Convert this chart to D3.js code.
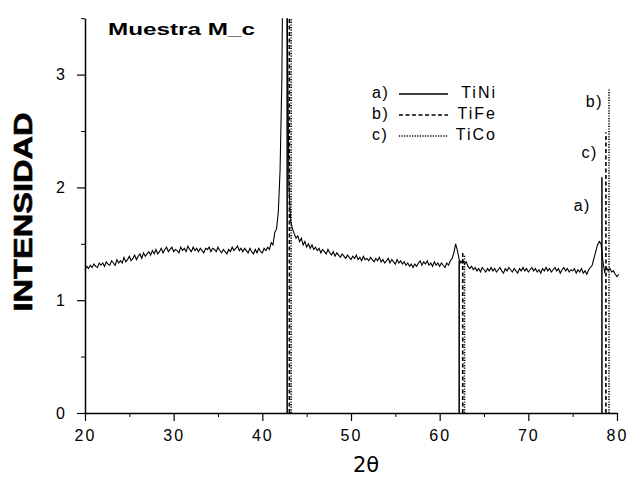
<!DOCTYPE html>
<html>
<head>
<meta charset="utf-8">
<script src="https://cdn.jsdelivr.net/npm/d3@7/dist/d3.min.js"></script>
<style>
  html, body { margin: 0; padding: 0; background: #fff; }
  svg { display: block; }
  text { font-family: "Liberation Sans", Arial, sans-serif; fill: #000; }
</style>
</head>
<body>
<svg id="chart" width="627" height="484"></svg>
<script>
// Diffraction scan, sample M_c: intensity every 0.2 degrees of 2θ starting at 20
const angleStart = 20;
const angleStep = 0.2;
const intensity = [
  1.27, 1.30, 1.28, 1.31, 1.29, 1.32, 1.30, 1.29, 1.33, 1.31,
  1.33, 1.30, 1.34, 1.32, 1.31, 1.35, 1.33, 1.31, 1.36, 1.33,
  1.35, 1.33, 1.38, 1.34, 1.36, 1.39, 1.35, 1.37, 1.40, 1.36,
  1.39, 1.41, 1.37, 1.42, 1.39, 1.41, 1.43, 1.40, 1.44, 1.41,
  1.45, 1.41, 1.43, 1.46, 1.42, 1.45, 1.47, 1.43, 1.45, 1.47,
  1.43, 1.45, 1.44, 1.42, 1.47, 1.44, 1.46, 1.43, 1.48, 1.45,
  1.43, 1.47, 1.44, 1.46, 1.43, 1.46, 1.44, 1.42, 1.46, 1.45,
  1.47, 1.43, 1.46, 1.45, 1.43, 1.47, 1.44, 1.42, 1.45, 1.43,
  1.41, 1.45, 1.43, 1.47, 1.44, 1.46, 1.48, 1.44, 1.46, 1.43,
  1.46, 1.44, 1.42, 1.46, 1.43, 1.41, 1.45, 1.42, 1.46, 1.43,
  1.42, 1.46, 1.44, 1.47, 1.45, 1.51, 1.49, 1.60, 1.63, 1.78,
  2.15, 2.95, 4.80, 6.00, 3.60, 2.00, 1.70, 1.63, 1.59, 1.55,
  1.57, 1.52, 1.55, 1.49, 1.52, 1.47, 1.50, 1.46, 1.49, 1.45,
  1.47, 1.44, 1.46, 1.42, 1.45, 1.43, 1.41, 1.45, 1.42, 1.40,
  1.43, 1.39, 1.42, 1.40, 1.38, 1.41, 1.39, 1.37, 1.40, 1.38,
  1.36, 1.39, 1.37, 1.40, 1.36, 1.38, 1.35, 1.39, 1.36, 1.37,
  1.35, 1.38, 1.36, 1.34, 1.37, 1.35, 1.38, 1.34, 1.36, 1.33,
  1.35, 1.37, 1.33, 1.36, 1.34, 1.32, 1.36, 1.33, 1.35, 1.32,
  1.34, 1.31, 1.33, 1.30, 1.32, 1.29, 1.32, 1.30, 1.33, 1.35,
  1.31, 1.34, 1.32, 1.35, 1.31, 1.33, 1.30, 1.34, 1.31, 1.33,
  1.30, 1.33, 1.31, 1.29, 1.33, 1.31, 1.35, 1.37, 1.42, 1.50,
  1.44, 1.36, 1.33, 1.36, 1.32, 1.34, 1.30, 1.28, 1.30, 1.27,
  1.29, 1.26, 1.28, 1.25, 1.29, 1.27, 1.25, 1.28, 1.26, 1.29,
  1.26, 1.28, 1.25, 1.27, 1.29, 1.26, 1.24, 1.28, 1.26, 1.29,
  1.27, 1.25, 1.28, 1.26, 1.24, 1.28, 1.26, 1.29, 1.26, 1.28,
  1.25, 1.27, 1.29, 1.26, 1.28, 1.25, 1.27, 1.24, 1.28, 1.26,
  1.29, 1.26, 1.28, 1.25, 1.27, 1.29, 1.26, 1.28, 1.24, 1.27,
  1.29, 1.26, 1.28, 1.25, 1.27, 1.26, 1.28, 1.24, 1.27, 1.25,
  1.28, 1.24, 1.26, 1.23, 1.27, 1.29, 1.31, 1.37, 1.43, 1.49,
  1.52, 1.50, 1.35, 1.25, 1.29, 1.26, 1.28, 1.25, 1.26, 1.23,
  1.21, 1.23
];

// Reference reflections of each phase: positions (2θ) and marker heights
const phaseNames  = ["TiNi", "TiFe", "TiCo"];
const phaseKeys   = ["a)", "b)", "c)"];
const markerKeys  = ["a)", "c)", "b)"];   // keys written beside the high-angle markers
const tiNiAngles  = [42.8, 62.2, 78.3];
const tiNiHeights = [3.5, 1.35, 2.09];
const tiFeAngles  = [43.05, 62.6, 78.75];
const tiFeHeights = [3.5, 1.42, 2.49];
const tiCoAngles  = [43.25, 62.8, 79.1];
const tiCoHeights = [3.5, 1.40, 2.88];

const xMajorTicks = [20, 30, 40, 50, 60, 70, 80];
const xMinorTicks = [25, 35, 45, 55, 65, 75];
const yMajorTicks = [0, 1, 2, 3];
const yMinorTicks = [0.5, 1.5, 2.5, 3.5];

const svg = d3.select("#chart");
const x = d3.scaleLinear().domain([20, 80]).range([85, 617]);
const y = d3.scaleLinear().domain([0, 3.5]).range([413, 18.2]);

const dashStyles = ["none", "4,2.5", "1.2,1.4"];
// key placement beside the last marker: [gap left of the line, drop below its top]
const keyOffsets = [[11, 34], [8, 26], [6, 19]];
const phases = [
  { name: phaseNames[0], key: phaseKeys[0], mark: markerKeys[0], angles: tiNiAngles, heights: tiNiHeights, dash: dashStyles[0], off: keyOffsets[0] },
  { name: phaseNames[1], key: phaseKeys[1], mark: markerKeys[1], angles: tiFeAngles, heights: tiFeHeights, dash: dashStyles[1], off: keyOffsets[1] },
  { name: phaseNames[2], key: phaseKeys[2], mark: markerKeys[2], angles: tiCoAngles, heights: tiCoHeights, dash: dashStyles[2], off: keyOffsets[2] }
];

svg.append("defs").append("clipPath").attr("id", "plotClip")
  .append("rect").attr("x", 80).attr("y", y(3.5)).attr("width", 560).attr("height", y(0) - y(3.5));

// Reference markers
const markers = svg.append("g").attr("clip-path", "url(#plotClip)");
phases.forEach(p => {
  p.angles.forEach((a, i) => {
    markers.append("line")
      .attr("x1", x(a)).attr("x2", x(a))
      .attr("y1", y(0)).attr("y2", y(p.heights[i]))
      .attr("stroke", "#000")
      .attr("stroke-width", p.dash === "none" ? 1.5 : 1.6)
      .attr("stroke-dasharray", p.dash === "none" ? null : p.dash);
  });
});

// Scan curve
const scan = intensity.map((v, i) => [angleStart + i * angleStep, v]);
svg.append("path")
  .datum(scan)
  .attr("clip-path", "url(#plotClip)")
  .attr("fill", "none")
  .attr("stroke", "#000")
  .attr("stroke-width", 1.1)
  .attr("d", d3.line().x(d => x(d[0])).y(d => y(d[1])));

// Axes
const tickFont = g => g.selectAll("text")
  .style("font-size", "16px")
  .style("letter-spacing", "2px")
  .attr("fill", "#000");

const xAxis = svg.append("g").attr("transform", `translate(0,${y(0)})`)
  .call(d3.axisBottom(x).tickValues(xMajorTicks).tickSize(8).tickSizeOuter(0).tickPadding(9).tickFormat(d3.format("d")));
xAxis.call(tickFont);
xAxis.select(".domain").attr("stroke-width", 1.5);
xAxis.selectAll(".tick line").attr("stroke-width", 1.2);
svg.append("g").attr("transform", `translate(0,${y(0)})`)
  .call(d3.axisBottom(x).tickValues(xMinorTicks).tickSize(4).tickFormat(""))
  .call(g => g.select(".domain").remove());

const yAxis = svg.append("g").attr("transform", `translate(${x(20)},0)`)
  .call(d3.axisLeft(y).tickValues(yMajorTicks).tickSize(8).tickSizeOuter(0).tickPadding(10).tickFormat(d3.format("d")));
yAxis.call(tickFont);
yAxis.select(".domain").attr("stroke-width", 1.5);
yAxis.selectAll(".tick line").attr("stroke-width", 1.2);
svg.append("g").attr("transform", `translate(${x(20)},0)`)
  .call(d3.axisLeft(y).tickValues(yMinorTicks).tickSize(4).tickFormat(""))
  .call(g => g.select(".domain").remove());

// Axis titles
svg.append("text")
  .attr("transform", "translate(32,212) rotate(-90)")
  .attr("text-anchor", "middle")
  .attr("textLength", 199)
  .attr("lengthAdjust", "spacingAndGlyphs")
  .style("font-size", "25px")
  .style("font-weight", "bold")
  .style("stroke", "#000").style("stroke-width", 0.6)
  .text("INTENSIDAD");

svg.append("text")
  .attr("x", 366).attr("y", 472)
  .attr("text-anchor", "middle")
  .style("font-size", "21px")
  .style("font-family", "'DejaVu Sans', sans-serif")
  .text("2θ");

// Sample name
svg.append("text")
  .attr("x", 108).attr("y", 35)
  .attr("textLength", 147)
  .attr("lengthAdjust", "spacingAndGlyphs")
  .style("font-size", "17px")
  .style("font-weight", "bold")
  .text("Muestra M_c");

// Legend
const legendRows = [96, 117, 138];
phases.forEach((p, i) => {
  const ly = legendRows[i];
  svg.append("text").attr("x", 372).attr("y", ly + 2)
    .style("font-size", "16px").style("letter-spacing", "1.5px").text(p.key);
  svg.append("line")
    .attr("x1", 399).attr("x2", 448).attr("y1", ly - 2).attr("y2", ly - 2)
    .attr("stroke", "#000").attr("stroke-width", 1.4)
    .attr("stroke-dasharray", p.dash === "none" ? null : p.dash);
  svg.append("text").attr("x", 497).attr("y", ly + 2)
    .attr("text-anchor", "end")
    .style("font-size", "16px").style("letter-spacing", "2px").text(p.name);
});

// Keys beside the highest-angle markers
phases.forEach(p => {
  const last = p.angles.length - 1;
  svg.append("text")
    .attr("x", x(p.angles[last]) - p.off[0])
    .attr("y", y(p.heights[last]) + p.off[1])
    .attr("text-anchor", "end")
    .style("font-size", "16px").style("letter-spacing", "1.5px")
    .text(p.mark);
});
</script>
</body>
</html>
